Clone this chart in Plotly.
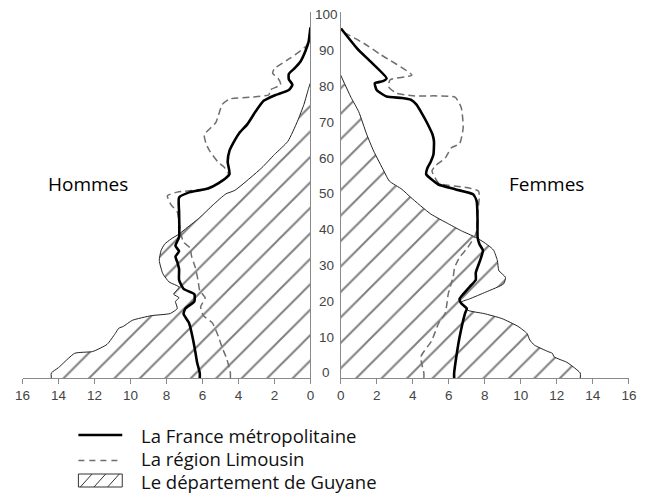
import plotly.graph_objects as go

# ---------------- data (age, % of population) ----------------
AGE_TICKS = [0, 10, 20, 30, 40, 50, 60, 70, 80, 90, 100]
X_TICKS = [0, 2, 4, 6, 8, 10, 12, 14, 16]

# Hommes - France métropolitaine
M_FR_AGE = [0, 3, 6, 10, 14, 16.5, 18, 20, 22, 23.5, 26, 29, 31, 32.5, 34, 35.5, 38, 45, 49,
            50.5, 51.5, 53, 55.5, 59, 62, 65, 67, 69.5, 73, 76, 77.5, 79, 80.5, 82, 83.5, 85,
            87, 90, 92.5, 96.5]
M_FR_VAL = [6.15, 6.3, 6.4, 6.55, 6.75, 7.05, 6.95, 6.45, 6.45, 7.05, 7.3, 7.3, 7.4, 7.5, 7.3,
            7.5, 7.3, 7.3, 7.3, 6.7, 5.7, 5.1, 4.5, 4.6, 4.5, 4.2, 3.95, 3.5, 3.05, 2.6, 2.0,
            1.2, 1.0, 1.2, 1.2, 0.9, 0.55, 0.27, 0.1, 0.0]
# Hommes - Limousin
M_LIM_AGE = [0, 4, 7, 10, 14, 16, 18.5, 21, 23, 26, 29.5, 32.5, 35, 36.5, 39, 42, 45, 47, 49.5,
             50.5, 51.5, 53, 55.5, 57.5, 59, 62, 64, 66.5, 70, 75, 76.5, 77, 77.7, 79, 80.5,
             82.3, 83.7, 85, 88, 91.5, 94.5]
M_LIM_VAL = [4.45, 4.65, 4.9, 5.1, 5.45, 5.95, 6.1, 5.85, 6.15, 6.25, 6.4, 6.6, 6.7, 7.05, 7.2,
             7.3, 7.4, 7.75, 7.95, 7.4, 5.6, 5.1, 4.55, 4.8, 5.15, 5.6, 5.8, 5.9, 5.25, 4.9,
             4.5, 3.3, 2.3, 2.25, 1.65, 1.8, 2.1, 2.0, 1.1, 0.2, 0.05]
# Hommes - Guyane
M_GUY_AGE = [0, 1.5, 5.5, 6, 8, 11, 12.5, 13, 14.7, 16, 16.6, 18, 20, 21, 22, 24, 25.4, 27.7,
             31.4, 34.2, 36, 37.4, 38.8, 40.6, 43.4, 47, 50, 51, 57.3, 61, 64.7, 70.3, 75,
             79.5, 81]
M_GUY_VAL = [14.4, 14.0, 13.1, 12.1, 11.3, 10.85, 10.65, 10.4, 9.9, 8.85, 7.8, 7.4, 7.5, 7.3,
             7.6, 7.3, 7.85, 8.2, 8.4, 8.3, 8.1, 7.75, 7.3, 6.85, 6.15, 5.4, 4.7, 4.2, 2.7,
             2.0, 1.25, 0.72, 0.36, 0.1, 0.0]

# Femmes - France métropolitaine
F_FR_AGE = [0, 5.5, 10, 16.6, 18, 19.4, 20.7, 22, 24, 26, 28, 29.5, 32.3, 34.2, 36, 38, 42.5,
            48, 49.9, 51.3, 52.7, 55.5, 57, 59, 61, 64.7, 66.6, 70.3, 73, 75, 76.3, 76.8,
            77.2, 79, 80.9, 81.5, 82.3, 87, 90.6, 96.2]
F_FR_VAL = [6.3, 6.45, 6.6, 6.9, 7.0, 6.7, 6.6, 6.8, 7.15, 7.5, 7.5, 7.6, 7.8, 7.9, 7.7, 7.6,
            7.6, 7.55, 7.35, 6.35, 5.4, 4.75, 4.8, 5.0, 5.15, 5.18, 5.1, 4.75, 4.45, 4.2, 3.9,
            3.4, 2.55, 2.0, 1.9, 2.35, 2.55, 1.65, 0.92, 0.02]
# Femmes - Limousin
F_LIM_AGE = [0, 4.5, 9, 14, 16.6, 19.4, 22, 27, 29.5, 32.3, 35, 38.8, 44.4, 49.5, 50.8, 51.8,
             53, 56.4, 57.8, 60, 62.9, 64, 68.4, 74, 77, 77.4, 78.1, 80, 81.9, 83.2, 88.8, 92,
             95.5]
F_LIM_VAL = [4.62, 4.45, 5.05, 5.45, 5.8, 5.9, 5.97, 6.25, 6.33, 6.6, 7.05, 7.5, 7.6, 7.7,
             7.65, 7.0, 5.45, 5.07, 5.25, 5.8, 6.15, 6.6, 6.8, 6.7, 6.35, 4.0, 3.1, 2.65, 2.75,
             3.95, 2.25, 1.3, 0.03]
# Femmes - Guyane
F_GUY_AGE = [0, 1.75, 3, 4.5, 5.5, 6, 7.8, 9.2, 11, 13, 15.2, 16.6, 17.5, 19.8, 20.7, 22.6,
             24.9, 26.7, 28.6, 31.4, 34.2, 35, 36.5, 38, 39.7, 41.6, 44.4, 49, 51.3, 53.6,
             56.4, 62, 66.6, 73, 77, 83.2]
F_GUY_VAL = [13.3, 12.9, 12.55, 11.85, 11.75, 11.5, 10.75, 10.5, 10.35, 9.85, 8.95, 7.95, 7.07,
             6.71, 7.16, 8.06, 9.05, 9.15, 8.78, 8.7, 8.5, 8.35, 7.95, 7.45, 6.7, 6.0, 5.0,
             3.9, 3.4, 2.7, 2.4, 1.83, 1.45, 1.0, 0.57, 0.0]

LEGEND_LABELS = ["La France métropolitaine", "La région Limousin", "Le département de Guyane"]
SIDE_LABELS = ["Hommes", "Femmes"]

# ---------------- layout constants ----------------
OFF = 8                      # page body margin of the browser
W, H = 645 - OFF, 500 - OFF
AXIS_BOTTOM = 378            # screen pixel of the x-axis line
TOP = 12                     # screen pixel of the plot top
MT, MB = TOP - OFF, (500 - AXIS_BOTTOM)
PLOT_H = H - MT - MB
Y_RANGE = [-1.4, 100.8]
TEXT_FONT = "Open Sans, Noto Sans, sans-serif"
TICK_FONT = "Liberation Sans, Arial, sans-serif"
GRAY = "#8a8a8a"


def px_x(x):
    return (x - OFF) / W


def px_y(y):
    return (AXIS_BOTTOM - y) / PLOT_H


def extend(ages, vals):
    # prolong the first value down to the axis floor
    return [Y_RANGE[0]] + list(ages), [vals[0]] + list(vals)


fig = go.Figure()

panels = [
    ("x", "y", M_FR_AGE, M_FR_VAL, M_LIM_AGE, M_LIM_VAL, M_GUY_AGE, M_GUY_VAL),
    ("x2", "y2", F_FR_AGE, F_FR_VAL, F_LIM_AGE, F_LIM_VAL, F_GUY_AGE, F_GUY_VAL),
]
for xa, ya, fa, fv, la, lv, ga, gv in panels:
    a, v = extend(ga, gv)
    fig.add_trace(go.Scatter(
        x=v, y=a, xaxis=xa, yaxis=ya, mode="lines", fill="tozerox",
        fillcolor="white",
        fillpattern=dict(shape="/", size=18, solidity=0.11, fgcolor="#000000", bgcolor="white"),
        line=dict(color="#222222", width=1, shape="spline", smoothing=0.5),
        showlegend=False, hoverinfo="skip"))
    a, v = extend(la, lv)
    fig.add_trace(go.Scatter(
        x=v, y=a, xaxis=xa, yaxis=ya, mode="lines",
        line=dict(color="#6e6e6e", width=1.5, dash="7px,4px", shape="spline", smoothing=0.5),
        showlegend=False, hoverinfo="skip"))
    a, v = extend(fa, fv)
    fig.add_trace(go.Scatter(
        x=v, y=a, xaxis=xa, yaxis=ya, mode="lines",
        line=dict(color="black", width=2.6, shape="spline", smoothing=0.5),
        showlegend=False, hoverinfo="skip"))

xaxis_common = dict(
    tickvals=X_TICKS, ticktext=[str(t) for t in X_TICKS], ticks="outside", ticklen=5,
    tickcolor=GRAY, tickwidth=1, showline=True, linecolor=GRAY, linewidth=1.2,
    showgrid=False, zeroline=False, tickfont=dict(family=TICK_FONT, size=13.5, color="#444"),
    fixedrange=True,
)
yaxis_common = dict(range=Y_RANGE, showgrid=False, zeroline=False, showticklabels=False,
                    ticks="", showline=True, linecolor=GRAY, linewidth=1.2)

fig.update_layout(
    width=W, height=H, margin=dict(l=0, r=0, t=MT, b=MB),
    paper_bgcolor="white", plot_bgcolor="white", showlegend=False,
    xaxis=dict(domain=[px_x(14.7), px_x(310)], range=[16, 0], anchor="y", **xaxis_common),
    xaxis2=dict(domain=[px_x(341), px_x(636.7)], range=[0, 16], anchor="y2", **xaxis_common),
    yaxis=dict(anchor="x", side="right", **yaxis_common),
    yaxis2=dict(anchor="x2", side="left", **yaxis_common),
)

# central age labels
for t in AGE_TICKS:
    fig.add_annotation(x=px_x(326), xref="paper", y=t, yref="y", text=str(t),
                       showarrow=False, xanchor="center", yanchor="middle",
                       font=dict(family=TICK_FONT, size=13.5, color="#444"))

# side labels
fig.add_annotation(x=px_x(82), y=px_y(184), xref="paper", yref="paper", text=SIDE_LABELS[0],
                   showarrow=False, xanchor="center", yanchor="middle",
                   font=dict(family=TEXT_FONT, size=19, color="black"))
fig.add_annotation(x=px_x(552), y=px_y(184), xref="paper", yref="paper", text=SIDE_LABELS[1],
                   showarrow=False, xanchor="center", yanchor="middle",
                   font=dict(family=TEXT_FONT, size=19, color="black"))

# legend
leg_y = [435, 458.5, 481]
for lab, yy in zip(LEGEND_LABELS, leg_y):
    fig.add_annotation(x=px_x(134), y=px_y(yy), xref="paper", yref="paper", text=lab,
                       showarrow=False, xanchor="left", yanchor="middle",
                       font=dict(family=TEXT_FONT, size=18.5, color="#111"))

fig.add_shape(type="line", xref="paper", yref="paper", x0=px_x(72), x1=px_x(117),
              y0=px_y(leg_y[0]), y1=px_y(leg_y[0]), line=dict(color="black", width=2.5))
fig.add_shape(type="line", xref="paper", yref="paper", x0=px_x(72), x1=px_x(117),
              y0=px_y(leg_y[1] + 2), y1=px_y(leg_y[1] + 2),
              line=dict(color="#6e6e6e", width=1.3, dash="6px,5px"))
bx0, bx1, by0, by1 = 72, 117, leg_y[2] - 7, leg_y[2] + 6
fig.add_shape(type="rect", xref="paper", yref="paper", x0=px_x(bx0), x1=px_x(bx1),
              y0=px_y(by1), y1=px_y(by0), line=dict(color="#333", width=1))
for sx in [bx0, bx0 + 14, bx0 + 28]:
    fig.add_shape(type="line", xref="paper", yref="paper", x0=px_x(sx + 2), x1=px_x(sx + 14),
                  y0=px_y(by1), y1=px_y(by0), line=dict(color="#333", width=1))

fig.write_html("out.html")
